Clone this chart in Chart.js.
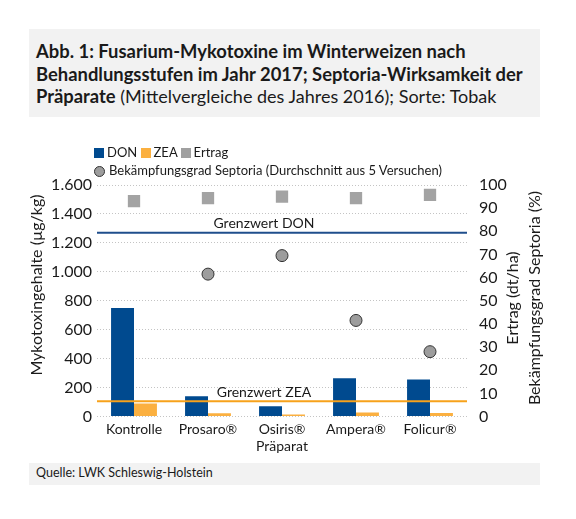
<!DOCTYPE html>
<html>
<head>
<meta charset="utf-8">
<script src="https://cdn.jsdelivr.net/npm/chart.js@4.4.0/dist/chart.umd.min.js"></script>
<style>
  html, body { margin: 0; padding: 0; background: #fff; }
  body { width: 576px; height: 519px; position: relative; overflow: hidden; font-family: Lato, sans-serif; color: #1a1a1a; }
  #title { position: absolute; left: 29px; top: 29px; width: 511px; height: 88px; background: #f2f2f2; box-sizing: border-box; padding: 11px 8px 0 7px; font-size: 18px; line-height: 22.5px; }
  #title b { font-weight: bold; font-size: 18.4px; }
  #legend { position: absolute; left: 94px; top: 143px; font-size: 13px; line-height: 18px; }
  #legend .sq { display: inline-block; width: 10px; height: 10px; margin-right: 3px; vertical-align: -1px; }
  #legend .ci { display: inline-block; width: 11px; height: 11px; border-radius: 50%; background: #9d9d9d; border: 1px solid #333; margin-right: 4px; vertical-align: -2px; box-sizing: border-box; }
  #source { position: absolute; left: 29px; top: 463px; width: 511px; height: 22px; background: #f2f2f2; box-sizing: border-box; padding: 2px 7px; font-size: 12.5px; }
  #wrap { position: absolute; left: 0; top: 0; width: 576px; height: 519px; }
</style>
</head>
<body>
<div id="wrap"><canvas id="c" width="576" height="519"></canvas></div>
<div id="title"><b>Abb. 1: Fusarium-Mykotoxine im Winterweizen nach Behandlungsstufen im Jahr 2017; Septoria-Wirksamkeit der Präparate</b> (Mittelvergleiche des Jahres 2016); Sorte: Tobak</div>
<div id="legend">
  <div><span class="sq" style="background:#004a8f"></span>DON <span class="sq" style="background:#fbb040"></span>ZEA <span class="sq" style="background:#a0a0a0"></span>Ertrag</div>
  <div><span class="ci"></span>Bekämpfungsgrad Septoria (Durchschnitt aus 5 Versuchen)</div>
</div>
<div id="source">Quelle: LWK Schleswig-Holstein</div>
<script>
const categories = ['Kontrolle', 'Prosaro®', 'Osiris®', 'Ampera®', 'Folicur®'];
const don = [750, 140, 70, 265, 255];
const zea = [90, 22, 14, 28, 24];
const ertrag = [93, 94.3, 95, 94.3, 95.7];
const septoria = [null, 61.5, 69.5, 41.5, 28];
const donLimit = 1270;
const zeaLimit = 105;

const font = 'Lato, sans-serif';

// Grenzwert-Linien und Achsentitel
const extras = {
  id: 'extras',
  afterDatasetsDraw(chart) {
    const ctx = chart.ctx;
    const a = chart.chartArea;
    const y = chart.scales.y;
    const limits = [
      [donLimit, '#1f4e8c', 'Grenzwert DON'],
      [zeaLimit, '#f7a21b', 'Grenzwert ZEA']
    ];
    ctx.save();
    for (const [v, col, txt] of limits) {
      const py = y.getPixelForValue(v);
      ctx.strokeStyle = col;
      ctx.lineWidth = 2;
      ctx.beginPath();
      ctx.moveTo(a.left, py);
      ctx.lineTo(a.right, py);
      ctx.stroke();
      ctx.fillStyle = '#1a1a1a';
      ctx.font = '14px ' + font;
      ctx.textAlign = 'center';
      ctx.textBaseline = 'bottom';
      ctx.fillText(txt, 264, py - 2);
    }
    ctx.restore();
  },
  afterDraw(chart) {
    const ctx = chart.ctx;
    ctx.save();
    ctx.fillStyle = '#1a1a1a';
    ctx.font = '16px ' + font;
    ctx.textAlign = 'center';
    ctx.textBaseline = 'middle';
    const titles = [
      [37, 285, 'Mykotoxingehalte (µg/kg)'],
      [513, 298, 'Ertrag (dt/ha)'],
      [535, 298, 'Bekämpfungsgrad Septoria (%)']
    ];
    for (const [x, yy, t] of titles) {
      ctx.save();
      ctx.translate(x, yy);
      ctx.rotate(-Math.PI / 2);
      ctx.fillText(t, 0, 0);
      ctx.restore();
    }
    ctx.restore();
  }
};

new Chart(document.getElementById('c'), {
  data: {
    labels: categories,
    datasets: [
      { type: 'line', label: 'Ertrag', data: ertrag, yAxisID: 'y2', showLine: false,
        pointStyle: 'rect', pointRadius: 8.7, backgroundColor: '#a3a3a3', borderWidth: 0, order: 0 },
      { type: 'line', label: 'Bekämpfungsgrad Septoria', data: septoria, yAxisID: 'y2', showLine: false,
        pointStyle: 'circle', pointRadius: 6, backgroundColor: '#9d9d9d', borderColor: '#333', borderWidth: 1, order: 0 },
      { type: 'bar', label: 'DON', data: don, yAxisID: 'y', backgroundColor: '#004a8f', order: 1 },
      { type: 'bar', label: 'ZEA', data: zea, yAxisID: 'y', backgroundColor: '#fbb040', order: 1 }
    ]
  },
  options: {
    responsive: false,
    animation: false,
    events: [],
    layout: { padding: { top: 185, left: 0, right: 0, bottom: 64 } },
    datasets: { bar: { categoryPercentage: 0.62, barPercentage: 1 } },
    plugins: { legend: { display: false }, tooltip: { enabled: false } },
    scales: {
      x: {
        grid: { display: false, drawTicks: false },
        border: { display: false },
        ticks: { color: '#1a1a1a', font: { family: font, size: 14 }, padding: 5, maxRotation: 0 },
        title: { display: true, text: 'Präparat', color: '#1a1a1a', font: { family: font, size: 14 }, padding: 0 },
        afterFit(s) { s.height = 38.5; }
      },
      y: {
        position: 'left', min: 0, max: 1600,
        ticks: { stepSize: 200, color: '#1a1a1a', font: { family: font, size: 16 }, padding: 5,
          callback: v => v.toLocaleString('de-DE') },
        grid: { color: '#c4c4c4', lineWidth: 1, drawTicks: false },
        border: { display: false, dash: [1, 2] },
        afterFit(s) { s.width = 97; }
      },
      y2: {
        position: 'right', min: 0, max: 100,
        ticks: { stepSize: 10, color: '#1a1a1a', font: { family: font, size: 16 }, padding: 12 },
        grid: { display: false, drawTicks: false },
        border: { display: false },
        afterFit(s) { s.width = 109; }
      }
    }
  },
  plugins: [extras]
});
</script>
</body>
</html>
